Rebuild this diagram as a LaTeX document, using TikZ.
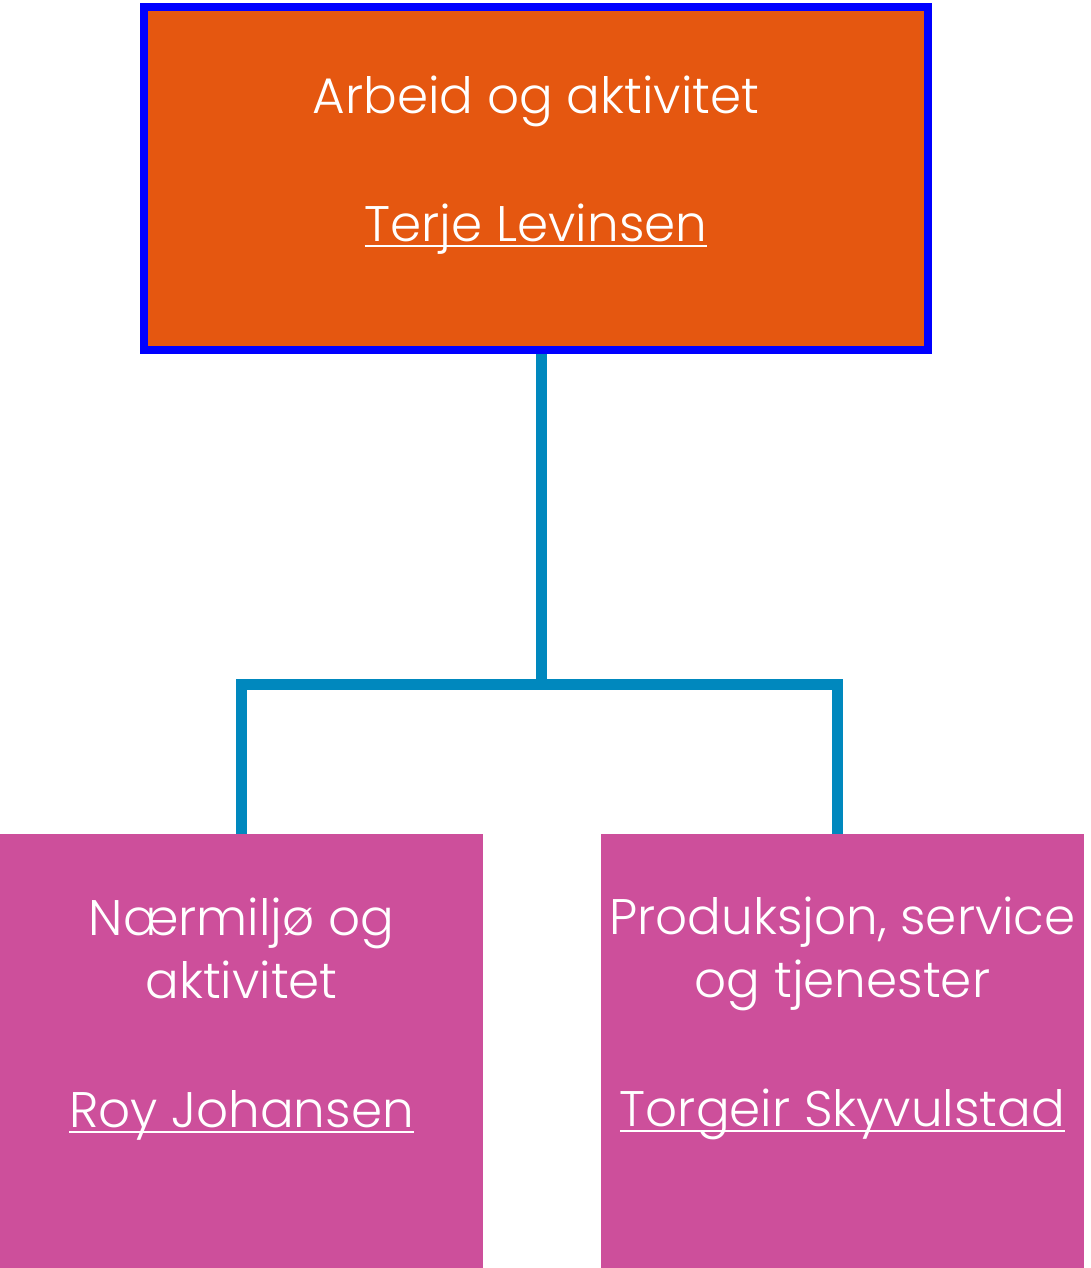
\documentclass[tikz,border=0pt]{standalone}
\usepackage{fontspec}
\setmainfont{Poppins}[UprightFont=* Light]
\usepackage{tikz}
\usetikzlibrary{positioning}

\definecolor{chieforange}{HTML}{E55710}
\definecolor{chiefblue}{HTML}{0000FF}
\definecolor{unitpink}{HTML}{CD4F9B}
\definecolor{linkteal}{HTML}{0088BE}

\newcommand{\ulname}[1]{\setbox0\hbox{#1}\rlap{\rule[-0.12em]{\wd0}{0.05em}}\box0}

\tikzset{
  chiefbox/.style={rectangle, draw=chiefblue, fill=chieforange, line width=6pt, inner sep=0pt, minimum width=588pt, minimum height=257.25pt},
  unitbox/.style={rectangle, fill=unitpink, inner sep=0pt, minimum width=362.25pt, minimum height=325.5pt},
  boxtext/.style={text=white, font=\fontsize{37.5}{47.25}\selectfont, align=center, inner sep=0pt, anchor=base},
  link/.style={draw=linkteal, line width=8.25pt, line join=miter}
}

\begin{document}
\begin{tikzpicture}[x=0.75pt, y=-0.75pt]
\useasboundingbox (0,0) rectangle (1090,1268);

\node[chiefbox] (arbeid) at (536,178.5) {};
\node[boxtext] (arbeidtitle) at (536,113) {Arbeid og aktivitet};
\node[boxtext] (arbeidname) at (536,241) {\ulname{Terje Levinsen}};

\node[unitbox] (naer) at (241.5,1051) {};
\node[boxtext] (naertitle) at (241.5,998) {Nærmiljø og\\aktivitet};
\node[boxtext] (naername) at (241.5,1127) {\ulname{Roy Johansen}};

\node[unitbox] (prod) at (842.5,1051) {};
\node[boxtext] (prodtitle) at (842.5,997) {Produksjon, service\\og tjenester};
\node[boxtext] (prodname) at (842.5,1126) {\ulname{Torgeir Skyvulstad}};

\coordinate (fork) at (541.5,684.5);
\coordinate (forkleft) at (241,684.5);
\coordinate (forkright) at (837.5,684.5);

\draw[link] (arbeid.south -| fork) -- (fork);
\draw[link] (naer.north -| forkleft) -- (forkleft) -- (forkright) -- (prod.north -| forkright);

\end{tikzpicture}
\end{document}
